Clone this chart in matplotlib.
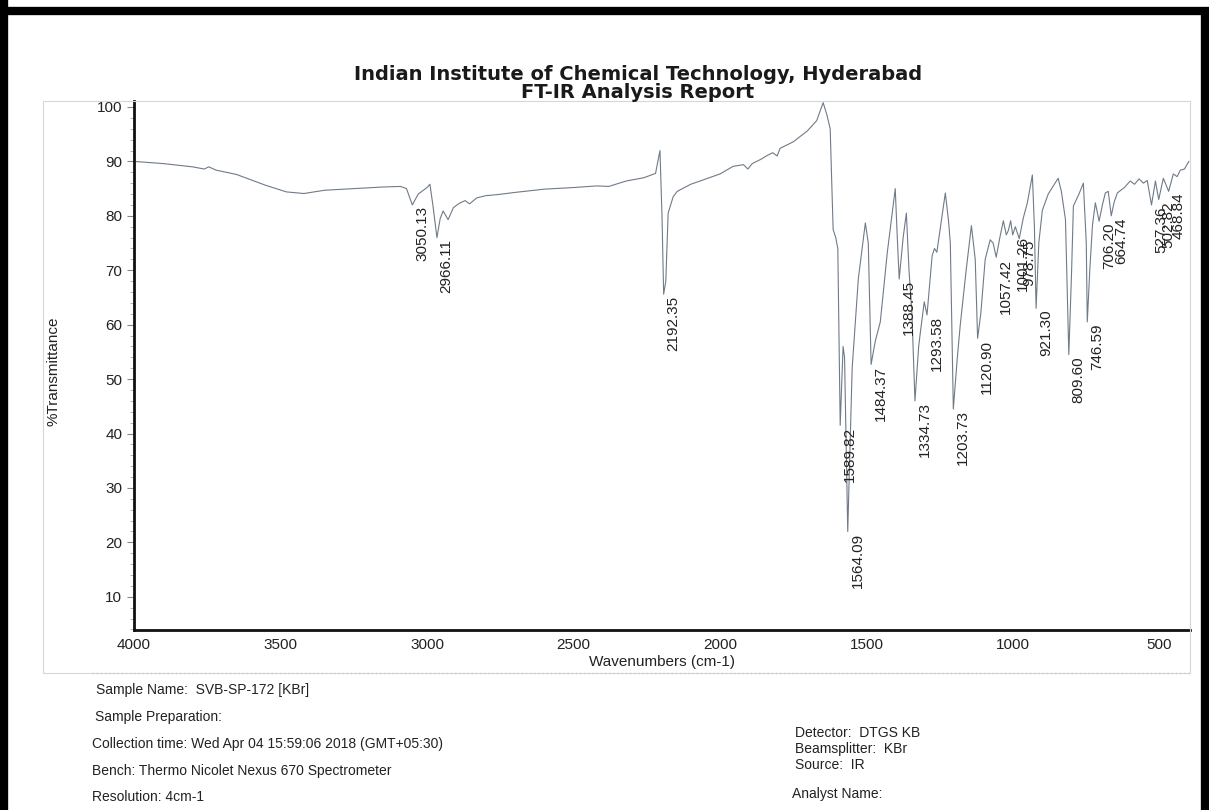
import matplotlib

matplotlib.use("Agg")
import matplotlib.pyplot as plt
import numpy as np
from matplotlib.lines import Line2D
from matplotlib.patches import Rectangle
from matplotlib.ticker import MultipleLocator

plt.rcParams["font.family"] = ["Liberation Sans", "DejaVu Sans"]

# spectrum knots (wavenumber cm-1, %T)
wavenumber = [
    4000, 3900, 3800, 3760, 3745, 3720, 3650, 3550, 3480, 3420, 3350, 3250, 3150, 3090,
    3070, 3050.13, 3030, 3000, 2990, 2980, 2966.11, 2955, 2945, 2928, 2910, 2890, 2870,
    2855, 2830, 2800, 2760, 2700, 2600, 2500, 2420, 2380, 2320, 2260, 2220, 2205, 2198,
    2192.35, 2185, 2177, 2160, 2146, 2100, 2068, 2000, 1955, 1920, 1905, 1890, 1860,
    1839, 1820, 1805, 1795, 1784, 1750, 1702, 1670, 1648, 1635, 1624, 1614, 1605, 1598,
    1589.82, 1580, 1575, 1564.09, 1556, 1549, 1528, 1504, 1494, 1484.37, 1470, 1453,
    1429, 1402, 1395, 1388.45, 1375, 1364, 1355, 1345, 1334.73, 1322, 1316, 1303,
    1293.58, 1276, 1268, 1260, 1231, 1220, 1214, 1203.73, 1190, 1180, 1160, 1142, 1129,
    1120.90, 1110, 1095, 1078, 1068, 1057.42, 1045, 1033, 1023, 1016, 1008, 1001.26, 992,
    978.75, 965, 951, 934, 927, 921.30, 912, 900, 880, 846, 835, 821, 809.60, 800, 794,
    775, 760, 750, 746.59, 738, 729, 719, 706.20, 695, 685, 675, 664.74, 655, 644, 620,
    600, 585, 570, 555, 542, 527.36, 514, 502.82, 487, 468.84, 453, 440, 429, 415, 400,
]
transmittance = [
    90.0, 89.6, 89.0, 88.6, 89.0, 88.4, 87.6, 85.6, 84.4, 84.1, 84.7, 85.0, 85.3, 85.4,
    85.0, 82.0, 84.0, 85.2, 85.8, 82.0, 76.0, 79.5, 80.9, 79.3, 81.5, 82.3, 82.8,
    82.2, 83.3, 83.7, 83.9, 84.3, 84.9, 85.2, 85.5, 85.4, 86.4, 87.0, 87.8, 92.0, 80.0,
    65.6, 68.0, 80.5, 83.5, 84.5, 85.8, 86.4, 87.7, 89.1, 89.4, 88.6, 89.6, 90.4,
    91.1, 91.6, 91.0, 92.4, 92.7, 93.6, 95.6, 97.5, 100.8, 98.5, 96.0, 77.5, 76.0, 74.0,
    41.5, 56.0, 54.0, 22.0, 38.0, 52.0, 68.4, 78.7, 75.0, 52.7, 57.0, 60.5,
    73.3, 85.0, 76.0, 68.4, 76.0, 80.5, 70.0, 62.0, 46.0, 56.0, 58.7, 64.2,
    61.8, 72.7, 74.0, 73.3, 84.2, 79.0, 75.0, 44.5, 54.0, 60.0, 70.0, 78.2, 72.0,
    57.5, 62.0, 72.0, 75.6, 75.0, 72.4, 76.0, 79.1, 76.5, 77.3, 79.1, 76.5, 78.0,
    75.8, 79.6, 82.4, 87.5, 78.0, 63.0, 75.0, 81.0, 84.0, 86.9, 84.5, 79.3, 54.5, 70.0, 81.8,
    84.0, 86.0, 75.0, 60.5, 70.0, 78.2, 82.4, 79.0, 82.0, 84.2, 84.5, 80.0, 82.5, 84.2, 85.2,
    86.4, 85.8, 86.8, 86.0, 86.5, 82.0, 86.4, 83.0, 86.9, 84.5, 87.7, 87.2, 88.4, 88.6, 90.0,
]

peak_labels = [
    "3050.13", "2966.11", "2192.35", "1589.82", "1564.09", "1484.37", "1388.45",
    "1334.73", "1293.58", "1203.73", "1120.90", "1057.42", "1001.26", "978.75",
    "921.30", "809.60", "746.59", "706.20", "664.74", "527.36", "502.82", "468.84",
]

title_lines = ["Indian Institute of Chemical Technology, Hyderabad", "FT-IR Analysis Report"]
info_left = [
    "Sample Name:  SVB-SP-172 [KBr]",
    "Sample Preparation:",
    "Collection time: Wed Apr 04 15:59:06 2018 (GMT+05:30)",
    "Bench: Thermo Nicolet Nexus 670 Spectrometer",
    "Resolution: 4cm-1",
]
info_right = ["Detector:  DTGS KB", "Beamsplitter:  KBr", "Source:  IR"]

W, H = 1209, 810
fig = plt.figure(figsize=(W / 100, H / 100), dpi=100)


def fx(px):
    return px / W


def fy(py):
    return 1 - py / H


ax = fig.add_axes([fx(134), fy(630), fx(1190 - 134), (630 - 101) / H])

wn = np.array(wavenumber)
tr = np.array(transmittance)
ax.plot(wn, tr, color="#6f7b88", lw=0.8)

for lab in peak_labels:
    w = float(lab)
    t = np.interp(w, wn[::-1], tr[::-1])
    ax.annotate(lab, xy=(w, t), xytext=(7, -1), textcoords="offset points",
                rotation=90, ha="center", va="top", fontsize=11, color="#222222")

ax.set_xlim(4000, 396)
ax.set_ylim(3.9, 101.1)
ax.xaxis.set_major_locator(MultipleLocator(500))
ax.yaxis.set_minor_locator(MultipleLocator(2))
ax.set_yticks(range(10, 101, 10))
ax.tick_params(axis="both", which="major", labelsize=11, length=5, color="#888888",
               labelcolor="#222222")
ax.tick_params(axis="y", which="minor", length=3, color="#aaaaaa")
ax.tick_params(axis="x", which="major", length=0, pad=6)

for side in ["top", "right"]:
    ax.spines[side].set_visible(False)
for side in ["left", "bottom"]:
    ax.spines[side].set_linewidth(2.0)
    ax.spines[side].set_color("#111111")

ax.set_ylabel("%Transmittance", fontsize=11, color="#222222")
ax.yaxis.set_label_coords((53 - 134) / 1056, 0.49)
ax.yaxis.label.set_va("center")
ax.set_xlabel("Wavenumbers (cm-1)", fontsize=11, color="#222222")
ax.xaxis.set_label_coords(0.5, (630 - 662) / 529)
ax.xaxis.label.set_va("center")

# faint page frame round the plot area
fig.add_artist(Rectangle((fx(43), fy(673)), fx(1190 - 43), (673 - 101) / H,
                         fill=False, ec="#d4d8dc", lw=0.8, transform=fig.transFigure))
fig.add_artist(Line2D([fx(92), fx(1190)], [fy(673), fy(673)], color="#c8c8c8",
                      lw=1.0, ls=(0, (1, 2)), transform=fig.transFigure))

# title
for s, y in zip(title_lines, [75, 93]):
    fig.text(fx(638), fy(y), s, ha="center", va="center", fontsize=14,
             fontweight="bold", color="#1a1a1a", family="DejaVu Sans")

# footer
left_y = [690, 717, 744, 771, 797]
left_x = [96, 95, 92, 92, 92]
for s, x, y in zip(info_left, left_x, left_y):
    fig.text(fx(x), fy(y), s, ha="left", va="center", fontsize=10, color="#222222")
for s, y in zip(info_right, [733, 749, 765]):
    fig.text(fx(795), fy(y), s, ha="left", va="center", fontsize=10, color="#222222")
fig.text(fx(792), fy(794), "Analyst Name:", ha="left", va="center", fontsize=10,
         color="#222222")

# black scan border
for xs, ys in [([4, 4], [0, 810]), ([0, 1209], [11, 11]), ([1205, 1205], [11, 810])]:
    fig.add_artist(Line2D([fx(v) for v in xs], [fy(v) for v in ys], color="black",
                          lw=6, solid_capstyle="butt", transform=fig.transFigure))

fig.savefig("out.png", dpi=100, facecolor="white")
